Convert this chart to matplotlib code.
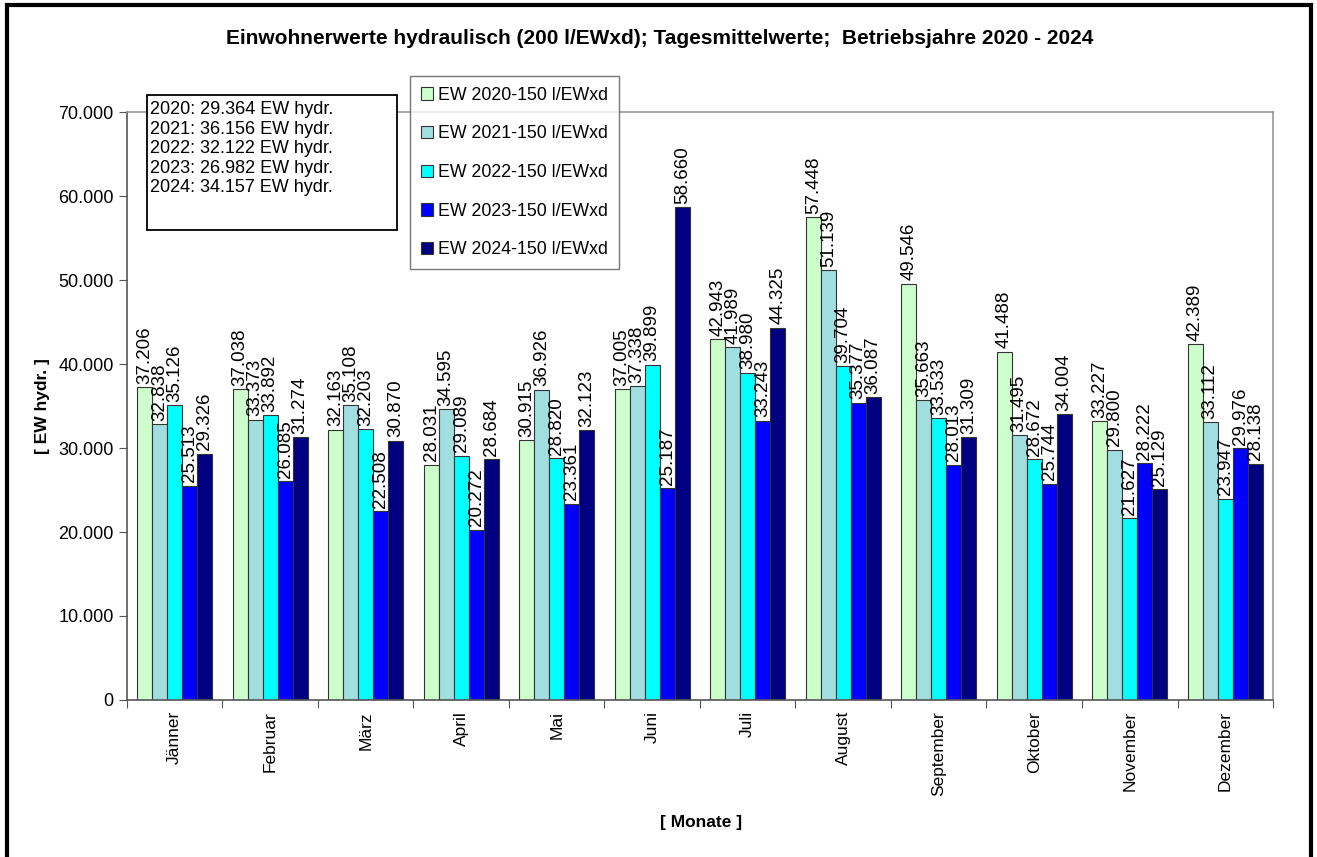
import numpy as np
import matplotlib
matplotlib.use("Agg")
import matplotlib.pyplot as plt
from matplotlib.patches import Rectangle
from matplotlib.ticker import FuncFormatter, FixedLocator

plt.rcParams['font.family'] = ['Liberation Sans', 'DejaVu Sans']

months = ['Jänner', 'Februar', 'März', 'April', 'Mai', 'Juni', 'Juli',
          'August', 'September', 'Oktober', 'November', 'Dezember']
ew2020 = [37206, 37038, 32163, 28031, 30915, 37005, 42943, 57448, 49546, 41488, 33227, 42389]
ew2021 = [32838, 33373, 35108, 34595, 36926, 37338, 41989, 51139, 35663, 31495, 29800, 33112]
ew2022 = [35126, 33892, 32203, 29089, 28820, 39899, 38980, 39704, 33533, 28672, 21627, 23947]
ew2023 = [25513, 26085, 22508, 20272, 23361, 25187, 33243, 35377, 28013, 25744, 28222, 29976]
ew2024 = [29326, 31274, 30870, 28684, 32123, 58660, 44325, 36087, 31309, 34004, 25129, 28138]
series_names = ['EW 2020-150 l/EWxd', 'EW 2021-150 l/EWxd', 'EW 2022-150 l/EWxd',
                'EW 2023-150 l/EWxd', 'EW 2024-150 l/EWxd']
colors = ['#CCFFCC', '#A0DEE0', '#00FFFF', '#0000FF', '#000080']
yearly_avg = ['2020: 29.364 EW hydr.', '2021: 36.156 EW hydr.', '2022: 32.122 EW hydr.',
              '2023: 26.982 EW hydr.', '2024: 34.157 EW hydr.']

fig = plt.figure(figsize=(13.17, 8.57), dpi=100)
ax = fig.add_axes([0.0964, 0.1832, 0.8702, 0.6861])

x = np.arange(len(months))
w = 0.157
all_series = [ew2020, ew2021, ew2022, ew2023, ew2024]
for i, vals in enumerate(all_series):
    pos = x + (i - 2) * w
    bars = ax.bar(pos, vals, width=w, color=colors[i], edgecolor='#333333',
                  linewidth=0.8, label=series_names[i], zorder=2)
    for b, v in zip(bars, vals):
        ax.text(b.get_x() + b.get_width() / 2, v + 400,
                f"{v / 1000:.3f}", rotation=90, ha='center', va='bottom',
                fontsize=13.5, zorder=3)

ax.set_xlim(-0.5, 11.5)
ax.set_ylim(0, 70000)
ax.set_yticks(np.arange(0, 70001, 10000))
ax.yaxis.set_major_formatter(FuncFormatter(lambda v, p: f"{v:,.0f}".replace(',', '.')))
ax.tick_params(axis='y', labelsize=13, length=6, direction='out', color='#555555')

ax.xaxis.set_major_locator(FixedLocator(np.arange(-0.5, 12, 1)))
ax.xaxis.set_major_formatter(FuncFormatter(lambda v, p: ''))
ax.xaxis.set_minor_locator(FixedLocator(x))
ax.set_xticklabels(months, minor=True, rotation=90, fontsize=12.5)
ax.tick_params(axis='x', which='major', length=6, color='#555555')
ax.tick_params(axis='x', which='minor', length=0, pad=8)

for s in ['top', 'right']:
    ax.spines[s].set_color('#999999')
for s in ['left', 'bottom']:
    ax.spines[s].set_color('#555555')
for s in ax.spines.values():
    s.set_linewidth(1.2)

fig.text(42 / 1317, 1 - 406 / 857, '[ EW hydr. ]', rotation=90, ha='center', va='center',
         fontsize=12.5, fontweight='bold')
fig.text(701 / 1317, 1 - 822 / 857, '[ Monate ]', ha='center', va='center',
         fontsize=12.5, fontweight='bold')

fig.text(0.501, 0.955, 'Einwohnerwerte hydraulisch (200 l/EWxd); Tagesmittelwerte;  Betriebsjahre 2020 - 2024',
         ha='center', va='center', fontsize=15, fontweight='bold')

leg = ax.legend(loc='upper left', bbox_to_anchor=(410 / 1317, 1 - 76 / 857),
                bbox_transform=fig.transFigure, fontsize=12.8, frameon=True,
                fancybox=False, edgecolor='#555555', handlelength=0.7,
                handleheight=0.7, handletextpad=0.3, labelspacing=1.22,
                borderpad=0.6, borderaxespad=0)
leg.get_frame().set_linewidth(1.0)

fig.patches.append(Rectangle((147 / 1317, 1 - 230 / 857), 250 / 1317, 135 / 857,
                             transform=fig.transFigure, facecolor='white',
                             edgecolor='black', linewidth=1.3, zorder=5))
fig.text(150 / 1317, 1 - 101 / 857, '\n'.join(yearly_avg), ha='left', va='top',
         fontsize=13, linespacing=1.2, zorder=6)

fig.patches.append(Rectangle((7 / 1317, -0.02), 1304 / 1317, 1.02 - 5 / 857,
                             transform=fig.transFigure, facecolor='none',
                             edgecolor='black', linewidth=3, zorder=10))

fig.savefig('out.png', dpi=100)
